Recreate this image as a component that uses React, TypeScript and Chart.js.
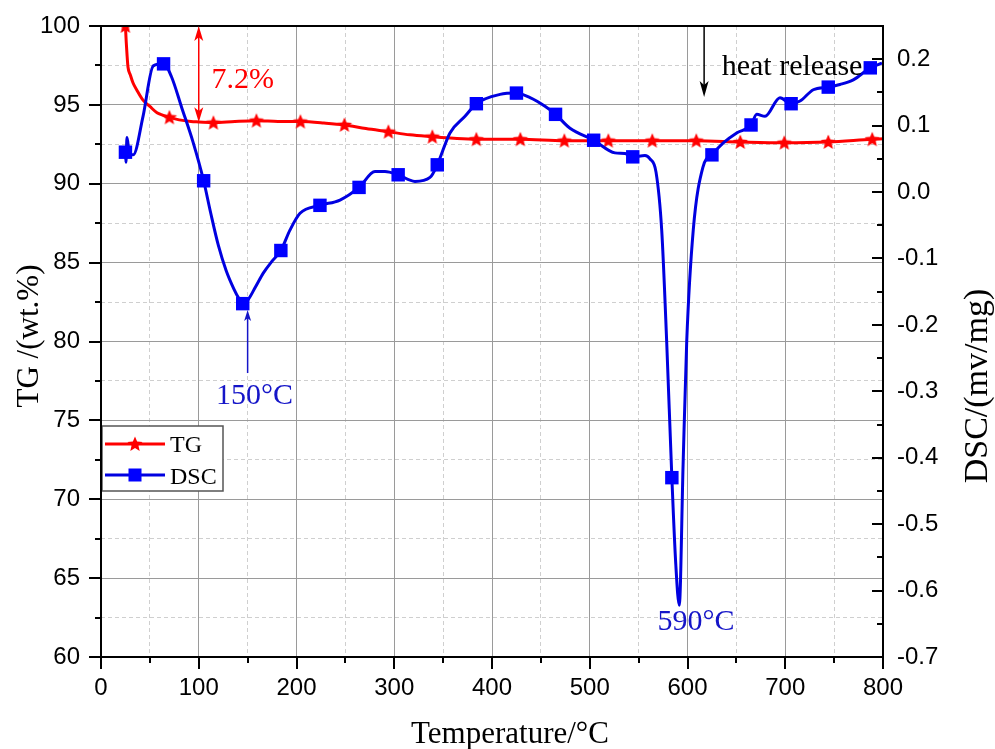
import React, { useEffect, useRef } from 'react';
import { Chart, registerables } from 'chart.js';

Chart.register(...registerables);

// ---------- data ----------
const tempTicks = [0, 100, 200, 300, 400, 500, 600, 700, 800];
const tgTicks = [60, 65, 70, 75, 80, 85, 90, 95, 100];
const dscTicks = [-0.7, -0.6, -0.5, -0.4, -0.3, -0.2, -0.1, 0.0, 0.1, 0.2];
const dscTickLabels = ['-0.7', '-0.6', '-0.5', '-0.4', '-0.3', '-0.2', '-0.1', '0.0', '0.1', '0.2'];

const tempRange = [0, 800];
const tgRange = [60, 100];
const dscRange = [-0.7, 0.25];

const tgTemp = [25, 25.8, 26.6, 27.6, 30, 32.7, 37, 43, 50, 57.3, 63, 70, 80, 92, 100, 115, 137, 159, 181, 204, 228, 249, 271, 294, 316, 339, 361, 384, 429, 474, 519, 564, 609, 654, 699, 744, 789, 800];
const tgValue = [100, 99.0, 98.2, 97.4, 96.9, 96.4, 95.9, 95.3, 94.9, 94.5, 94.35, 94.21, 94.05, 93.95, 93.92, 93.87, 93.95, 94.0, 93.95, 93.94, 93.85, 93.73, 93.5, 93.3, 93.1, 92.98, 92.88, 92.82, 92.82, 92.73, 92.73, 92.73, 92.73, 92.65, 92.6, 92.65, 92.82, 92.85];
const tgMarkerTemp = [25, 70, 115, 159, 204, 249, 294, 339, 384, 429, 474, 519, 564, 609, 654, 699, 744, 789];

const dscTemp = [25, 25.5, 26.6, 28.6, 33, 43, 53.5, 64, 72, 82.6, 94.4, 105, 112, 120, 128, 136, 141, 145, 150, 158, 166, 175, 184, 193.4, 203.6, 224, 244.5, 264, 280.3, 290.5, 304, 321.2, 336.6, 344, 357, 372.4, 384, 408.2, 425, 438.9, 454.2, 465, 479.8, 504, 525.8, 536.1, 544, 556.5, 561.6, 567.8, 573.6, 578.7, 584, 588, 591.6, 595.5, 599.2, 605.9, 615.9, 625, 636.6, 650.3, 665, 670.8, 679.3, 694.6, 706, 715.1, 728.7, 744, 756, 769.6, 787, 799];
const dscValue = [0.060, 0.045, 0.082, 0.062, 0.056, 0.114, 0.190, 0.193, 0.174, 0.127, 0.074, 0.017, -0.030, -0.080, -0.118, -0.146, -0.160, -0.168, -0.163, -0.143, -0.122, -0.104, -0.088, -0.057, -0.032, -0.020, -0.012, 0.007, 0.031, 0.031, 0.026, 0.016, 0.022, 0.041, 0.089, 0.114, 0.133, 0.147, 0.149, 0.142, 0.129, 0.117, 0.096, 0.078, 0.059, 0.058, 0.053, 0.055, 0.050, 0.030, -0.057, -0.225, -0.430, -0.560, -0.622, -0.410, -0.225, -0.057, 0.038, 0.056, 0.074, 0.089, 0.101, 0.117, 0.114, 0.142, 0.133, 0.137, 0.154, 0.158, 0.162, 0.169, 0.187, 0.194];
const dscMarkerTemp = [25, 64, 105, 145, 184, 224, 264, 304, 344, 384, 425, 465, 504, 544, 584, 625, 665, 706, 744, 787];

// ---------- helpers ----------
const SERIF = "'Liberation Serif', 'Times New Roman', serif";
const SANS = "'Liberation Sans', Arial, sans-serif";
const RED = '#ff0000';
const BLUE = '#0000e0';
const MAJOR_GRID = '#9a9a9a';
const MINOR_GRID = '#cfcfcf';

function withMinors(majors: number[]): number[] {
  const out: number[] = [];
  for (let i = 0; i < majors.length; i++) {
    out.push(majors[i]);
    if (i < majors.length - 1) out.push((majors[i] + majors[i + 1]) / 2);
  }
  return out;
}
const isIn = (arr: number[], v: number) => arr.some((a) => Math.abs(a - v) < 1e-9);

function makeStar(r: number, color: string) {
  const c = document.createElement('canvas');
  const s = Math.ceil(r * 2 + 2);
  c.width = s;
  c.height = s;
  const g = c.getContext('2d')!;
  g.fillStyle = color;
  g.beginPath();
  for (let i = 0; i < 10; i++) {
    const ang = -Math.PI / 2 + (i * Math.PI) / 5;
    const rr = i % 2 === 0 ? r : r * 0.45;
    const px = s / 2 + rr * Math.cos(ang);
    const py = s / 2 + 0.5 + rr * Math.sin(ang);
    if (i === 0) g.moveTo(px, py);
    else g.lineTo(px, py);
  }
  g.closePath();
  g.fill();
  return c;
}

function head(ctx: CanvasRenderingContext2D, x: number, tipY: number, dir: number, len: number, half: number) {
  ctx.beginPath();
  ctx.moveTo(x, tipY);
  ctx.lineTo(x - half, tipY - dir * len);
  ctx.lineTo(x, tipY - dir * len * 0.75);
  ctx.lineTo(x + half, tipY - dir * len);
  ctx.closePath();
  ctx.fill();
}

function gridColor(majors: number[]) {
  return (c: any) => (c.tick && !isIn(majors, c.tick.value) ? MINOR_GRID : MAJOR_GRID);
}
function gridDash(majors: number[]) {
  return (c: any) => (c.tick && !isIn(majors, c.tick.value) ? [4, 3] : []);
}

export default function App() {
  const ref = useRef<HTMLCanvasElement | null>(null);

  useEffect(() => {
    if (!ref.current) return;
    const star = makeStar(8, RED);

    const overlay = {
      id: 'overlay',
      afterDraw(chart: any) {
        const { ctx, chartArea: a, scales } = chart;
        const xs = scales.x;
        const ys = scales.y;
        const y2 = scales.y2;
        ctx.save();

        // legend box
        const lx = 102, ly = 426, lw = 121, lh = 65;
        ctx.fillStyle = '#fff';
        ctx.fillRect(lx, ly, lw, lh);
        ctx.strokeStyle = '#555';
        ctx.lineWidth = 1.5;
        ctx.strokeRect(lx, ly, lw, lh);
        ctx.lineWidth = 3;
        ctx.strokeStyle = RED;
        ctx.beginPath();
        ctx.moveTo(105, 444);
        ctx.lineTo(165, 444);
        ctx.stroke();
        ctx.drawImage(star, 135 - star.width / 2, 444 - star.height / 2);
        ctx.strokeStyle = BLUE;
        ctx.beginPath();
        ctx.moveTo(105, 475);
        ctx.lineTo(165, 475);
        ctx.stroke();
        ctx.fillStyle = '#0000ff';
        ctx.fillRect(135 - 6.5, 475 - 6.5, 13, 13);
        ctx.fillStyle = '#000';
        ctx.font = `24px ${SERIF}`;
        ctx.textAlign = 'left';
        ctx.textBaseline = 'alphabetic';
        ctx.fillText('TG', 170, 452);
        ctx.fillText('DSC', 170, 484);

        // frame
        ctx.strokeStyle = '#000';
        ctx.lineWidth = 2;
        ctx.strokeRect(a.left, a.top, a.right - a.left, a.bottom - a.top);

        // tick marks
        ctx.lineWidth = 2;
        ctx.beginPath();
        withMinors(tgTicks).forEach((v) => {
          const p = Math.round(ys.getPixelForValue(v));
          const len = isIn(tgTicks, v) ? 12 : 6;
          ctx.moveTo(a.left, p);
          ctx.lineTo(a.left - len, p);
        });
        withMinors(tempTicks).forEach((v) => {
          const p = Math.round(xs.getPixelForValue(v));
          const len = isIn(tempTicks, v) ? 12 : 6;
          ctx.moveTo(p, a.bottom);
          ctx.lineTo(p, a.bottom + len);
        });
        withMinors(dscTicks).forEach((v) => {
          const p = Math.round(y2.getPixelForValue(v));
          const len = isIn(dscTicks, v) ? 11 : 6;
          ctx.moveTo(a.right, p);
          ctx.lineTo(a.right - len, p);
        });
        ctx.stroke();

        // 7.2% double arrow
        ctx.strokeStyle = RED;
        ctx.fillStyle = RED;
        ctx.lineWidth = 1.5;
        const ax = xs.getPixelForValue(100);
        const aTop = ys.getPixelForValue(100);
        const aBot = ys.getPixelForValue(93.9);
        ctx.beginPath();
        ctx.moveTo(ax, aTop + 4);
        ctx.lineTo(ax, aBot - 4);
        ctx.stroke();
        head(ctx, ax, aTop, -1, 15, 4.5);
        head(ctx, ax, aBot, 1, 15, 4.5);
        ctx.font = `30px ${SERIF}`;
        ctx.textAlign = 'left';
        ctx.fillText('7.2%', xs.getPixelForValue(113), ys.getPixelForValue(96.1));

        // heat release arrow
        ctx.strokeStyle = '#000';
        ctx.fillStyle = '#000';
        const hx = xs.getPixelForValue(617);
        const hBot = ys.getPixelForValue(95.5);
        ctx.beginPath();
        ctx.moveTo(hx, a.top);
        ctx.lineTo(hx, hBot - 6);
        ctx.stroke();
        head(ctx, hx, hBot, 1, 16, 4.5);
        ctx.fillText('heat release', xs.getPixelForValue(635), ys.getPixelForValue(96.9));

        // 150 °C marker
        ctx.strokeStyle = '#1515c8';
        ctx.fillStyle = '#1515c8';
        const bx = xs.getPixelForValue(150);
        const bTop = ys.getPixelForValue(82.0);
        const bBot = ys.getPixelForValue(78.0);
        ctx.beginPath();
        ctx.moveTo(bx, bBot);
        ctx.lineTo(bx, bTop + 5);
        ctx.stroke();
        head(ctx, bx, bTop, -1, 11, 3.5);
        ctx.textAlign = 'center';
        ctx.fillText('150°C', xs.getPixelForValue(157), ys.getPixelForValue(76.05));
        ctx.fillText('590°C', xs.getPixelForValue(608.7), ys.getPixelForValue(61.68));

        // axis titles
        ctx.fillStyle = '#000';
        ctx.font = `31px ${SERIF}`;
        ctx.textAlign = 'center';
        ctx.textBaseline = 'alphabetic';
        ctx.fillText('Temperature/°C', 510, 743);

        ctx.save();
        ctx.translate(38, 336);
        ctx.rotate(-Math.PI / 2);
        ctx.font = `31px ${SERIF}`;
        ctx.fillText('TG /(wt.%)', 0, 0);
        ctx.restore();

        ctx.save();
        ctx.translate(987, 386);
        ctx.rotate(-Math.PI / 2);
        ctx.font = `34px ${SERIF}`;
        ctx.fillText('DSC/(mv/mg)', 0, 0);
        ctx.restore();

        ctx.restore();
      },
    };

    const tickFont = { family: SANS, size: 24 };
    const noPad = (s: any) => {
      s.paddingTop = 0;
      s.paddingBottom = 0;
      s.paddingLeft = 0;
      s.paddingRight = 0;
    };

    const chart = new Chart(ref.current, {
      type: 'line',
      data: {
        datasets: [
          {
            label: 'DSC',
            data: dscTemp.map((t, i) => ({ x: t, y: dscValue[i] })),
            yAxisID: 'y2',
            order: 1,
            borderColor: BLUE,
            borderWidth: 3,
            cubicInterpolationMode: 'monotone',
            pointStyle: 'rect',
            pointRadius: (c: any) => (isIn(dscMarkerTemp, dscTemp[c.dataIndex]) ? 9.5 : 0),
            pointBackgroundColor: '#0000ff',
            pointBorderColor: '#0000ff',
            pointBorderWidth: 0,
          } as any,
          {
            label: 'TG',
            data: tgTemp.map((t, i) => ({ x: t, y: tgValue[i] })),
            yAxisID: 'y',
            order: 2,
            borderColor: RED,
            borderWidth: 3,
            cubicInterpolationMode: 'monotone',
            pointStyle: star,
            pointRadius: (c: any) => (isIn(tgMarkerTemp, tgTemp[c.dataIndex]) ? 8 : 0),
            pointBackgroundColor: RED,
            pointBorderColor: RED,
          } as any,
        ],
      },
      options: {
        responsive: false,
        devicePixelRatio: 1,
        animation: false,
        events: [],
        layout: { padding: { top: 26, left: 0, right: 0, bottom: 0 } },
        plugins: { legend: { display: false }, tooltip: { enabled: false } },
        scales: {
          x: {
            type: 'linear',
            position: 'bottom',
            min: tempRange[0],
            max: tempRange[1],
            afterBuildTicks: (axis: any) => {
              axis.ticks = withMinors(tempTicks).map((v) => ({ value: v }));
            },
            afterFit: (s: any) => {
              s.height = 92;
              noPad(s);
            },
            ticks: {
              autoSkip: false,
              maxRotation: 0,
              padding: 17,
              color: '#000',
              font: tickFont,
              callback: (v: any) => (isIn(tempTicks, Number(v)) ? String(v) : ''),
            },
            grid: { color: gridColor(tempTicks), lineWidth: 1, drawTicks: false },
            border: { display: false, dash: gridDash(tempTicks) },
          },
          y: {
            type: 'linear',
            position: 'left',
            min: tgRange[0],
            max: tgRange[1],
            afterBuildTicks: (axis: any) => {
              axis.ticks = withMinors(tgTicks).map((v) => ({ value: v }));
            },
            afterFit: (s: any) => {
              s.width = 101;
              noPad(s);
            },
            ticks: {
              autoSkip: false,
              padding: 21,
              color: '#000',
              font: tickFont,
              callback: (v: any) => (isIn(tgTicks, Number(v)) ? String(v) : ''),
            },
            grid: { color: gridColor(tgTicks), lineWidth: 1, drawTicks: false },
            border: { display: false, dash: gridDash(tgTicks) },
          },
          y2: {
            type: 'linear',
            position: 'right',
            min: dscRange[0],
            max: dscRange[1],
            afterBuildTicks: (axis: any) => {
              axis.ticks = dscTicks.map((v) => ({ value: v }));
            },
            afterFit: (s: any) => {
              s.width = 112;
              noPad(s);
            },
            ticks: {
              autoSkip: false,
              padding: 14,
              color: '#000',
              font: tickFont,
              callback: (v: any) => {
                const i = dscTicks.findIndex((d) => Math.abs(d - Number(v)) < 1e-9);
                return i >= 0 ? dscTickLabels[i] : '';
              },
            },
            grid: { display: false, drawOnChartArea: false, drawTicks: false },
            border: { display: false },
          },
        },
      },
      plugins: [overlay],
    } as any);

    return () => chart.destroy();
  }, []);

  return (
    <div style={{ position: 'fixed', left: 0, top: 0, width: 995, height: 749, background: '#fff' }}>
      <canvas ref={ref} width={995} height={749} style={{ display: 'block' }} />
    </div>
  );
}
